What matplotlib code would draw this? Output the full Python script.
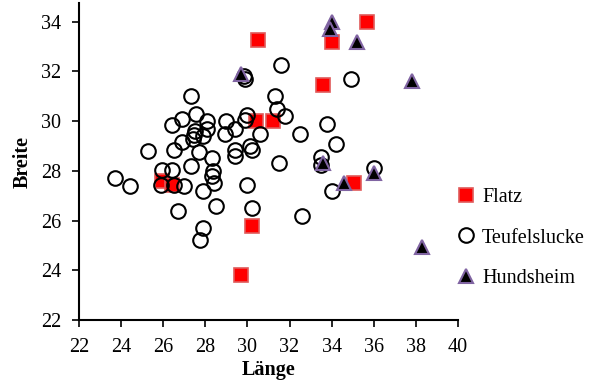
import matplotlib
matplotlib.use('Agg')
import matplotlib.pyplot as plt

plt.rcParams['font.family'] = ['Liberation Serif', 'DejaVu Serif']

flatz_x = [25.95, 26.4, 30.5, 30.4, 31.2, 33.6, 34.0, 35.7, 35.05, 30.2, 29.7]
flatz_y = [27.6, 27.45, 33.25, 30.0, 30.0, 31.45, 33.2, 34.0, 27.5, 25.8, 23.8]

teufel_x = [23.7, 24.4, 25.3, 25.95, 26.4, 25.9, 26.5, 27.0, 27.3, 26.7,
            27.9, 27.9, 27.75, 27.3, 27.55, 26.9, 26.4, 27.5, 27.45, 27.4,
            26.9, 26.5, 27.7, 27.9, 28.3, 28.35, 28.3, 28.4, 28.5, 28.1,
            28.1, 29.0, 28.95, 29.4, 29.4, 29.4, 29.85, 29.9, 30.0, 29.9,
            30.6, 30.1, 30.2, 30.0, 30.2, 31.3, 31.4, 31.6, 31.8, 32.5,
            31.5, 32.6, 33.5, 33.5, 33.8, 34.2, 34.0, 34.9, 36.0]
teufel_y = [27.7, 27.4, 28.8, 28.05, 28.05, 27.45, 27.45, 27.4, 28.2, 26.4,
            27.2, 25.7, 25.2, 31.0, 30.3, 30.1, 29.85, 29.6, 29.45, 29.3,
            29.15, 28.85, 28.75, 29.4, 28.5, 28.0, 27.8, 27.5, 26.6, 30.0,
            29.7, 30.0, 29.5, 29.7, 28.85, 28.6, 31.8, 31.7, 30.25, 30.05,
            29.5, 29.0, 28.85, 27.45, 26.5, 31.0, 30.5, 32.25, 30.2, 29.5,
            28.3, 26.2, 28.55, 28.25, 29.9, 29.1, 27.2, 31.7, 28.1]

hunds_x = [29.7, 34.0, 33.9, 35.2, 37.8, 33.6, 34.6, 36.0, 38.3]
hunds_y = [31.9, 34.0, 33.7, 33.2, 31.6, 28.3, 27.5, 27.9, 24.95]

x_ticks = list(range(22, 41, 2))
y_ticks = list(range(22, 35, 2))

fig = plt.figure(figsize=(6, 3.86), dpi=100)
ax = fig.add_axes([0.1317, 0.171, 0.6316, 0.821])

ax.plot(flatz_x, flatz_y, 's', ms=10, mfc='red', mec='#e05a5a', mew=1.2,
        label='Flatz', clip_on=False)
ax.plot(teufel_x, teufel_y, 'o', ms=10.5, mfc='none', mec='black', mew=1.5,
        label='Teufelslucke', clip_on=False)
ax.plot(hunds_x, hunds_y, '^', ms=10, mfc='black', mec='#8064a2', mew=1.5,
        label='Hundsheim', clip_on=False)

ax.set_xlim(22, 40)
ax.set_ylim(22, 34.75)
ax.set_xticks(x_ticks)
ax.set_yticks(y_ticks)
ax.tick_params(labelsize=14.5, direction='out', length=5, width=1.2, pad=8)
for s in ['top', 'right']:
    ax.spines[s].set_visible(False)
for s in ['left', 'bottom']:
    ax.spines[s].set_linewidth(1.5)

ax.set_xlabel('Länge', fontsize=14.5, fontweight='bold', labelpad=2)
ax.set_ylabel('Breite', fontsize=14.5, fontweight='bold', labelpad=6)

# legend sits right of the plot, lower half
fig.legend(loc='upper left', bbox_to_anchor=(0.733, 0.549), frameon=False,
           fontsize=14.5, labelspacing=1.05, handletextpad=0.2,
           handlelength=1.2, borderaxespad=0.3)

fig.savefig('out.png', dpi=100)
